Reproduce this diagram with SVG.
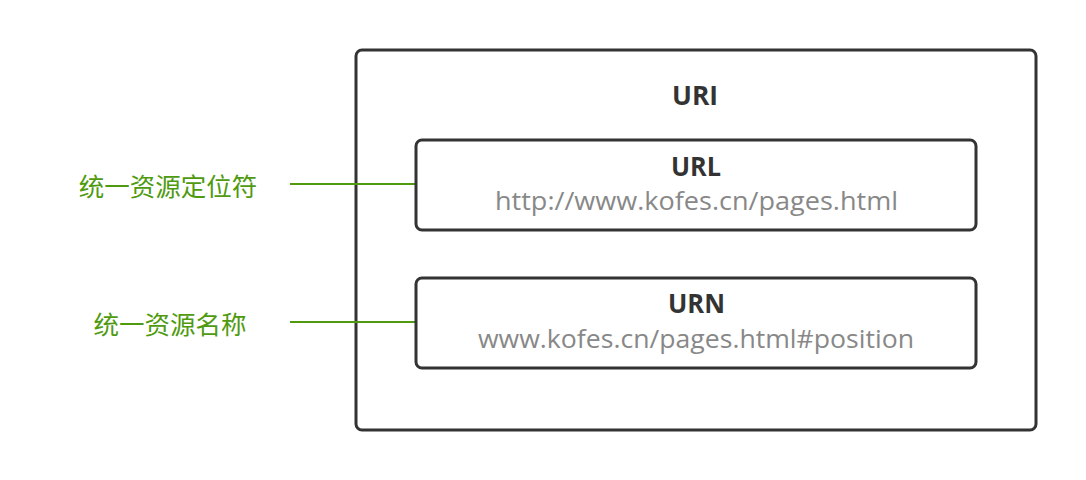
<svg xmlns="http://www.w3.org/2000/svg" width="1086" height="480" viewBox="0 0 1086 480">
<style>
.box{fill:#fff;stroke:#333;stroke-width:3}
.title{font-family:"Open Sans","Noto Sans",sans-serif;font-weight:bold;font-size:26px;fill:#333;text-anchor:middle}
.sub{font-family:"Open Sans","Noto Sans",sans-serif;font-size:26px;fill:#888;text-anchor:middle}
.lbl{font-family:"Noto Sans CJK SC",sans-serif;font-size:25.5px;fill:#4f9a0f;text-anchor:middle}
.conn{stroke:#4f9a0f;stroke-width:2;fill:none}
</style>
<rect width="1086" height="480" fill="#fff"/>
<g id="uri">
<rect class="box" x="356" y="50" width="680" height="380" rx="6"/>
<text class="title" x="695" y="105" textLength="46" lengthAdjust="spacingAndGlyphs">URI</text>
</g>
<g id="connectors">
<line class="conn" x1="290" y1="184" x2="416" y2="184"/>
<line class="conn" x1="290" y1="322" x2="416" y2="322"/>
</g>
<g id="url">
<rect class="box" x="416" y="140" width="560" height="90" rx="6"/>
<text class="title" x="696" y="176" textLength="50" lengthAdjust="spacingAndGlyphs">URL</text>
<text class="sub" x="696.5" y="210" textLength="403" lengthAdjust="spacingAndGlyphs">http://www.kofes.cn/pages.html</text>
</g>
<g id="urn">
<rect class="box" x="416" y="278" width="560" height="90" rx="6"/>
<text class="title" x="696.5" y="313" textLength="57" lengthAdjust="spacingAndGlyphs">URN</text>
<text class="sub" x="696" y="348" textLength="436" lengthAdjust="spacingAndGlyphs">www.kofes.cn/pages.html#position</text>
</g>
<g id="label-url">
<text class="lbl" x="168" y="196">统一资源定位符</text>
</g>
<g id="label-urn">
<text class="lbl" x="170" y="334">统一资源名称</text>
</g>
</svg>
